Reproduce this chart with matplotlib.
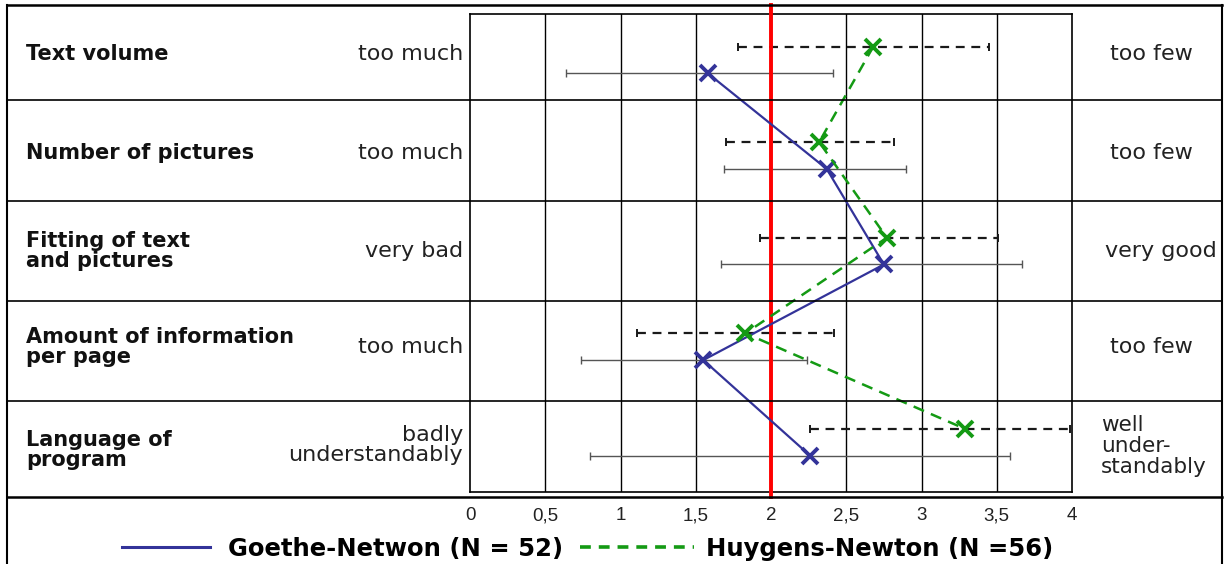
import matplotlib
matplotlib.use("Agg")
import matplotlib.pyplot as plt
from matplotlib.lines import Line2D
import numpy as np

# ---------------- data ----------------
categories = ["Text volume", "Number of pictures", "Fitting of text\nand pictures",
              "Amount of information\nper page", "Language of\nprogram"]
left_anchor = ["too much", "too much", "very bad", "too much", "badly\nunderstandably"]
right_anchor = ["too few", "too few", "very good", "too few", "well\nunder-\nstandably"]

goethe_mean = [1.58, 2.37, 2.75, 1.55, 2.26]
goethe_low = [0.64, 1.69, 1.67, 0.74, 0.80]
goethe_high = [2.41, 2.90, 3.67, 2.24, 3.59]

huygens_mean = [2.68, 2.32, 2.77, 1.83, 3.29]
huygens_low = [1.78, 1.70, 1.93, 1.11, 2.26]
huygens_high = [3.45, 2.82, 3.51, 2.42, 3.99]

xticks = [0, 0.5, 1, 1.5, 2, 2.5, 3, 3.5, 4]
xticklabels = ["0", "0,5", "1", "1,5", "2", "2,5", "3", "3,5", "4"]
reference_value = 2
label_goethe = "Goethe-Netwon (N = 52)"
label_huygens = "Huygens-Newton (N =56)"

# ---------------- style ----------------
W, H = 1225, 564
BLUE = "#333399"
GREEN = "#149a14"
RED = "#ff0000"

fig = plt.figure(figsize=(W / 100, H / 100), dpi=100)
fig.patch.set_facecolor("white")

def fx(x):
    return x / W

def fy(y):
    return 1 - y / H

# table frame (drawn in figure coords)
def fline(x0, y0, x1, y1, lw=1.2, color="black"):
    fig.add_artist(Line2D([fx(x0), fx(x1)], [fy(y0), fy(y1)], lw=lw, color=color,
                          transform=fig.transFigure, zorder=0.5))

fline(7, 5, 1222, 5, lw=1.8)
fline(7, 5, 7, 564, lw=1.5)
fline(1222, 5, 1222, 564, lw=1.5)
fline(7, 497, 1222, 497, lw=1.8)
for yy in [100, 201, 301, 401]:
    fline(7, yy, 1222, yy, lw=1.2)

# main plot axes
left, right, top, bottom = 470, 1072, 14, 492
ax = fig.add_axes([fx(left), fy(bottom), (right - left) / W, (bottom - top) / H])
ax.set_facecolor("none")
ax.set_xlim(0, 4)
ax.set_ylim(0, 5)
for s in ax.spines.values():
    s.set_linewidth(1.2)
    s.set_color("black")
ax.set_xticks(xticks)
ax.set_xticklabels(xticklabels, fontsize=13.5, family="Liberation Sans", color="#222222")
ax.tick_params(axis="x", length=0, pad=11)
ax.set_yticks([])
for xv in xticks[1:-1]:
    ax.axvline(xv, color="black", lw=1.0, zorder=1)

n = len(categories)
pos = np.array([n - 0.5 - i for i in range(n)])
y_h = pos + 0.16
y_g = pos - 0.12

# error bars
eb_g = ax.errorbar(goethe_mean, y_g,
                   xerr=[np.array(goethe_mean) - np.array(goethe_low),
                         np.array(goethe_high) - np.array(goethe_mean)],
                   fmt="none", ecolor="#555555", elinewidth=1.0, capsize=3, capthick=1.0, zorder=2)
eb_h = ax.errorbar(huygens_mean, y_h,
                   xerr=[np.array(huygens_mean) - np.array(huygens_low),
                         np.array(huygens_high) - np.array(huygens_mean)],
                   fmt="none", ecolor="#1a1a1a", elinewidth=1.6, capsize=3, capthick=1.4, zorder=2)
eb_h[2][0].set_linestyle((0, (4, 3)))

# reference line
ax.axvline(reference_value, ymin=-0.011, ymax=1.019, color=RED, lw=2.8, clip_on=False, zorder=3)

# series lines
ax.plot(goethe_mean, y_g, color=BLUE, lw=1.6, marker="x", markersize=11,
        markeredgewidth=2.8, zorder=4)
ax.plot(huygens_mean, y_h, color=GREEN, lw=1.8, ls=(0, (4.5, 3)), marker="x", markersize=11,
        markeredgewidth=2.8, zorder=4)

# row texts
row_centers = [54, 153, 251, 347, 450]
for i in range(n):
    yc = fy(row_centers[i])
    fig.text(fx(26), yc, categories[i], ha="left", va="center", fontsize=15,
             fontweight="bold", family="DejaVu Sans", linespacing=1.0, color="#111111")
    if i == 4:
        fig.text(fx(463), fy(445), left_anchor[i], ha="right", va="center",
                 fontsize=16, family="DejaVu Sans", linespacing=1.05, color="#222222")
    else:
        fig.text(fx(463), yc, left_anchor[i], ha="right", va="center",
                 fontsize=16, family="DejaVu Sans", linespacing=1.05, color="#222222")
    if i == 4:
        fig.text(fx(1101), fy(446), right_anchor[i], ha="left", va="center",
                 fontsize=15.5, family="DejaVu Sans", linespacing=1.05, color="#222222")
    elif i == 2:
        fig.text(fx(1161), yc, right_anchor[i], ha="center", va="center",
                 fontsize=16, family="DejaVu Sans", color="#222222")
    else:
        fig.text(fx(1151), yc, right_anchor[i], ha="center", va="center",
                 fontsize=16, family="DejaVu Sans", color="#222222")

# legend (two parts with different handle lengths)
leg_prop = {"family": "DejaVu Sans", "size": 17.5, "weight": "bold"}
h1 = Line2D([], [], color=BLUE, lw=2.2)
h2 = Line2D([], [], color=GREEN, lw=2.6, ls=(0, (3, 2.2)))
fig.legend([h1], [label_goethe], loc="center left", bbox_to_anchor=(fx(122), fy(549)),
           frameon=False, prop=leg_prop, handlelength=3.6, handletextpad=0.75,
           borderpad=0, borderaxespad=0)
fig.legend([h2], [label_huygens], loc="center left", bbox_to_anchor=(fx(580), fy(549)),
           frameon=False, prop=leg_prop, handlelength=4.7, handletextpad=0.5,
           borderpad=0, borderaxespad=0)

fig.savefig("out.png", dpi=100, facecolor="white")
